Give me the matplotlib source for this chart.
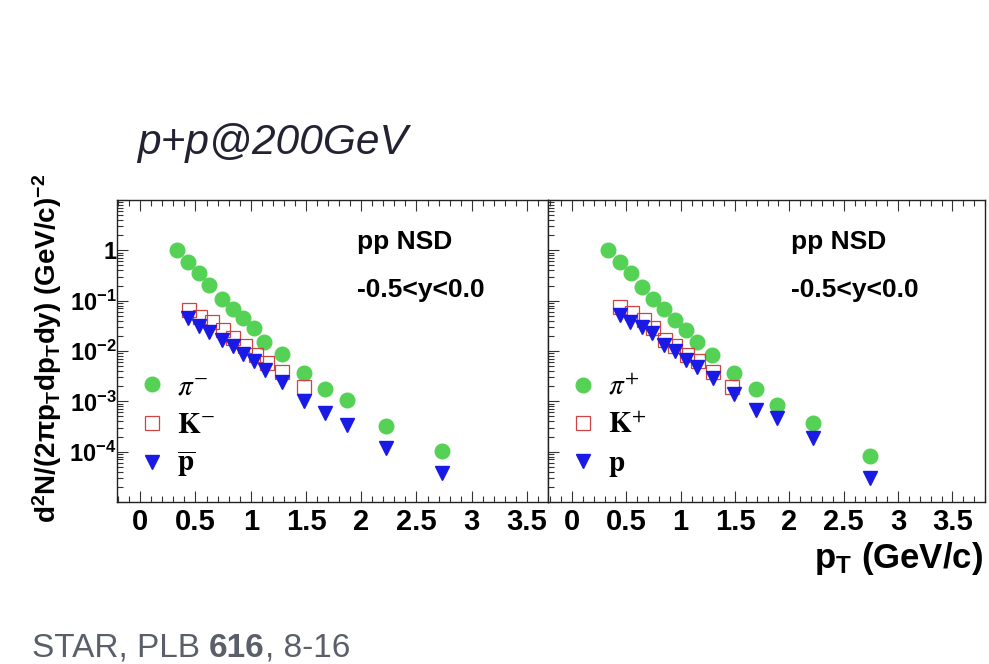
import numpy as np
import matplotlib
matplotlib.use("Agg")
import matplotlib.pyplot as plt
from matplotlib.ticker import FixedLocator, LogLocator, MultipleLocator, FuncFormatter

plt.rcParams['font.family'] = ['Liberation Sans', 'DejaVu Sans']
plt.rcParams['mathtext.fontset'] = 'custom'
plt.rcParams['mathtext.rm'] = 'Liberation Sans'
plt.rcParams['mathtext.bf'] = 'Liberation Sans:bold'
plt.rcParams['mathtext.it'] = 'Liberation Sans:italic'

# ---- data (pT in GeV/c, yields in (GeV/c)^-2) ----
# negative particles (left panel)
pim_pt = [0.33, 0.43, 0.53, 0.62, 0.74, 0.84, 0.93, 1.03, 1.12, 1.28, 1.48, 1.67, 1.87, 2.22, 2.73]
pim_y = [1.0, 0.59, 0.35, 0.204, 0.110, 0.069, 0.045, 0.028, 0.0151, 0.0087, 0.0037, 0.00174, 0.00107, 0.00032, 0.000102]
km_pt = [0.44, 0.54, 0.65, 0.75, 0.84, 0.95, 1.05, 1.15, 1.28, 1.48]
km_y = [0.065, 0.048, 0.038, 0.026, 0.0178, 0.0123, 0.0083, 0.0058, 0.0039, 0.00195]
pbar_pt = [0.43, 0.53, 0.62, 0.74, 0.84, 0.93, 1.03, 1.13, 1.28, 1.48, 1.67, 1.87, 2.22, 2.73]
pbar_y = [0.045, 0.032, 0.024, 0.0166, 0.0123, 0.0089, 0.0062, 0.0042, 0.00245, 0.00100, 0.00059, 0.00034, 0.000118, 0.000038]

# positive particles (right panel)
pip_pt = [0.33, 0.44, 0.54, 0.64, 0.75, 0.85, 0.95, 1.05, 1.15, 1.29, 1.49, 1.69, 1.89, 2.22, 2.74]
pip_y = [1.0, 0.59, 0.35, 0.186, 0.110, 0.068, 0.041, 0.026, 0.0151, 0.0083, 0.0037, 0.00174, 0.00085, 0.00037, 0.000083]
kp_pt = [0.44, 0.55, 0.66, 0.75, 0.86, 0.95, 1.06, 1.16, 1.30, 1.47]
kp_y = [0.076, 0.056, 0.041, 0.028, 0.0166, 0.0123, 0.0083, 0.0062, 0.0039, 0.00195]
p_pt = [0.44, 0.53, 0.64, 0.74, 0.85, 0.95, 1.05, 1.15, 1.30, 1.49, 1.69, 1.89, 2.22, 2.74]
p_y = [0.051, 0.038, 0.030, 0.0224, 0.0132, 0.0098, 0.0066, 0.0049, 0.0029, 0.00141, 0.00068, 0.00047, 0.000186, 0.000030]

green = '#55d155'
red = '#cc4444'
blue = '#1a1ae6'

fig = plt.figure(figsize=(9.89, 6.64), dpi=100)
ax_l = fig.add_axes([0.1183, 0.244, 0.4358, 0.4548])
ax_r = fig.add_axes([0.5541, 0.244, 0.4419, 0.4548])


def ytick_fmt(v, pos):
    e = int(round(np.log10(v)))
    if e == 0:
        return '1'
    if e > 0 or e < -4:
        return ''
    return r'$\mathbf{10^{%d}}$' % e


def style_axis(ax, xlim, show_ylabels):
    ax.set_yscale('log')
    ax.set_xlim(*xlim)
    ax.set_ylim(1e-5, 10)
    ax.xaxis.set_major_locator(MultipleLocator(0.5))
    ax.xaxis.set_minor_locator(MultipleLocator(0.1))
    ax.xaxis.set_major_formatter(FuncFormatter(lambda v, p: '%g' % round(v, 2)))
    ax.yaxis.set_major_locator(FixedLocator([1e-5, 1e-4, 1e-3, 1e-2, 1e-1, 1, 10]))
    ax.yaxis.set_minor_locator(LogLocator(base=10, subs=np.arange(2, 10), numticks=30))
    ax.tick_params(which='both', direction='in', top=True, right=False, width=0.8, color='#333333')
    ax.tick_params(which='major', length=8)
    ax.tick_params(which='minor', length=4)
    ax.tick_params(axis='x', labelsize=21, pad=4)
    ax.tick_params(axis='y', labelsize=17, pad=0.5)
    for lab in ax.get_xticklabels():
        lab.set_fontweight('bold')
    if show_ylabels:
        ax.yaxis.set_major_formatter(FuncFormatter(ytick_fmt))
        for lab in ax.get_yticklabels():
            lab.set_fontweight('bold')
    else:
        ax.set_yticklabels([])
    for sp in ax.spines.values():
        sp.set_linewidth(1.0)
        sp.set_color('#222222')
    ax.text(0.557, 0.861, 'pp NSD', transform=ax.transAxes, fontsize=19,
            fontweight='bold', va='center', ha='left')
    ax.text(0.557, 0.702, '-0.5<y<0.0', transform=ax.transAxes, fontsize=19,
            fontweight='bold', va='center', ha='left')


ms = 10.5
h1, = ax_l.plot(pim_pt, pim_y, 'o', color=green, ms=ms, mec=green, ls='none')
h2, = ax_l.plot(km_pt, km_y, 's', mfc='none', mec=red, mew=0.9, ms=ms - 1, ls='none')
h3, = ax_l.plot(pbar_pt, pbar_y, 'v', color=blue, ms=ms, ls='none')
style_axis(ax_l, (-0.21, 3.69), True)

g1, = ax_r.plot(pip_pt, pip_y, 'o', color=green, ms=ms, mec=green, ls='none')
g2, = ax_r.plot(kp_pt, kp_y, 's', mfc='none', mec=red, mew=0.9, ms=ms - 1, ls='none')
g3, = ax_r.plot(p_pt, p_y, 'v', color=blue, ms=ms, ls='none')
style_axis(ax_r, (-0.22, 3.80), False)

# legends
for ax, hs, labs in [
    (ax_l, [h1, h2, h3], [r'$\pi^{-}$', r'$\mathbf{K}^{-}$', r'$\overline{\mathbf{p}}$']),
    (ax_r, [g1, g2, g3], [r'$\pi^{+}$', r'$\mathbf{K}^{+}$', r'$\mathbf{p}$']),
]:
    leg = ax.legend(hs, labs, loc='lower left', bbox_to_anchor=(0.003, 0.007),
                    frameon=False, fontsize=21, handlelength=0.9,
                    handletextpad=0.4, labelspacing=0.35, borderaxespad=0.3)
    for t in leg.get_texts():
        t.set_math_fontfamily('stix')

# axis titles and annotations
fig.text(0.0475, 0.476, r'$\mathbf{d^2N/(2\pi p_T dp_T dy)\ (GeV/c)^{-2}}$',
         rotation=90, fontsize=20, ha='center', va='center')
fig.text(0.994, 0.159, r'$\mathbf{p_T}$ (GeV/c)', fontsize=25, fontweight='bold',
         ha='right', va='center')
fig.text(0.139, 0.784, 'p+p@200GeV', fontsize=30.5, style='italic', color='#222233',
         ha='left', va='center')
t1 = fig.text(0.032, 0.024, 'STAR, PLB ', fontsize=24, color='#5a5f6a', ha='left', va='center')
fig.canvas.draw()
bb = t1.get_window_extent()
t2 = fig.text(bb.x1 / fig.bbox.width, 0.024, '616', fontsize=24, color='#5a5f6a',
              fontweight='bold', ha='left', va='center')
fig.canvas.draw()
bb2 = t2.get_window_extent()
fig.text(bb2.x1 / fig.bbox.width, 0.024, ', 8-16', fontsize=24, color='#5a5f6a',
         ha='left', va='center')

fig.savefig('out.png', dpi=100, facecolor='white')
